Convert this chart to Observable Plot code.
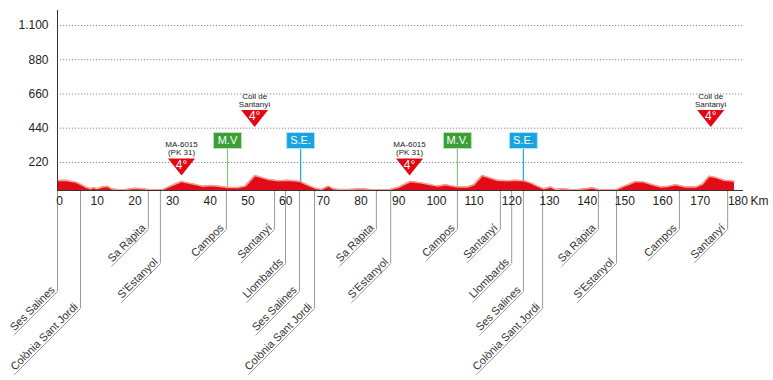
<!DOCTYPE html>
<html>
<head>
<meta charset="utf-8">
<script src="https://cdn.jsdelivr.net/npm/d3@7"></script>
<script src="https://cdn.jsdelivr.net/npm/@observablehq/plot@0.6"></script>
<style>
  html, body { margin: 0; padding: 0; background: #fff; }
  #chart { width: 773px; height: 380px; }
</style>
</head>
<body>
<div id="chart"></div>
<script>
// ---------- DATA ----------
const profileKm   = [0, 2.1, 3.4, 4.8, 6.1, 7.4, 8.8, 9.6, 10.5, 11.9, 13.2, 14.5, 17.2, 20.7, 22.5, 25.1, 27.8, 29.5, 31.3, 32.9, 34.4, 36.6, 38.4, 40.6, 42.8, 45.2, 48, 49.8, 52.4, 54.2, 56, 58.6, 60.8, 62.6, 64.4, 66.6, 68.4, 70.1, 71.9, 73.2, 74.6, 77.2, 80.7, 84.3, 87.8, 90.5, 91.8, 93.7, 96.3, 99, 100.7, 102.9, 105.1, 106.5, 108.7, 110.5, 112.7, 114.4, 116.7, 119.3, 121.5, 123.7, 125.5, 127.3, 129, 130.8, 132.1, 134.3, 137, 140.2, 141.9, 143.7, 148.1, 149.9, 151.7, 153.4, 155.6, 157.8, 160.1, 162.3, 164, 166.7, 169.4, 171.1, 172.9, 174.7, 176.9, 178.6, 179.6];
const profileElev = [105, 106, 100, 94, 80, 63, 51, 59, 51, 63, 68, 49, 44, 55, 51, 44, 44, 63, 82, 98, 89, 79, 68, 72, 68, 59, 59, 68, 136, 124, 110, 102, 106, 102, 98, 72, 55, 47, 68, 51, 47, 47, 51, 44, 44, 61, 77, 98, 89, 77, 68, 77, 68, 63, 63, 77, 136, 124, 106, 102, 106, 102, 89, 68, 51, 63, 47, 51, 44, 51, 57, 47, 44, 63, 80, 98, 94, 77, 63, 68, 77, 63, 63, 80, 132, 124, 106, 102, 98];

const placeNames = ["Ses Salines", "Colònia Sant Jordi", "Sa Ràpita", "S'Estanyol", "Campos", "Santanyí", "Llombards", "Ses Salines", "Colònia Sant Jordi", "Sa Ràpita", "S'Estanyol", "Campos", "Santanyí", "Llombards", "Ses Salines", "Colònia Sant Jordi", "Sa Ràpita", "S'Estanyol", "Campos", "Santanyí"];
const placeKm    = [0, 6.1, 24.1, 27.3, 44.8, 57.6, 60.5, 64.2, 68.2, 84.6, 88.4, 106.1, 117.5, 120.5, 123.6, 128.7, 143.5, 148.3, 165.0, 177.8];

const climbNames = ["MA-6015\n(PK 31)", "Coll de\nSantanyí", "MA-6015\n(PK 31)", "Coll de\nSantanyí"];
const climbKm    = [32.9, 52.3, 93.4, 173.3];
const climbCat   = ["4°", "4°", "4°", "4°"];

const sprintLabels = ["M.V", "S.E.", "M.V.", "S.E."];
const sprintKm     = [45.1, 64.5, 106.1, 123.6];
const sprintType   = ["MV", "SE", "MV", "SE"];

const yTickValues = [220, 440, 660, 880, 1100];
const yTickLabels = ["220", "440", "660", "880", "1.100"];
const xTickValues = [0, 10, 20, 30, 40, 50, 60, 70, 80, 90, 100, 110, 120, 130, 140, 150, 160, 170, 180];
const xTickLabels = ["0", "10", "20", "30", "40", "50", "60", "70", "80", "90", "100", "110", "120", "130", "140", "150", "160", "170", "180"];

// ---------- LAYOUT ----------
const FONT = "Liberation Sans, Arial, Helvetica, sans-serif";
const xDomain = [0, 182], xRange = [57, 743];
const yDomain = [-1116, 1196], yRange = [370, 10];
const yBase = 40; // altitude at the profile baseline
const pxPerKm = (xRange[1] - xRange[0]) / (xDomain[1] - xDomain[0]);
const pxPerM = (yRange[0] - yRange[1]) / (yDomain[1] - yDomain[0]);
const tierDropPx = {"Sa Ràpita": 39, "S'Estanyol": 73, "Campos": 39, "Santanyí": 39, "Llombards": 73, "Ses Salines": 101, "Colònia Sant Jordi": 118};
const climbCenterM = [191, 502, 191, 502];   // triangle centre altitude (annotation layout)
const sprintBoxM = 361;                        // box centre altitude (annotation layout)

const profile = profileKm.map((k, i) => ({km: k, elev: profileElev[i], base: yBase}));
function elevAt(k) {
  for (let i = 0; i < profileKm.length - 1; i++) {
    if (k >= profileKm[i] && k <= profileKm[i + 1]) {
      const t = (k - profileKm[i]) / (profileKm[i + 1] - profileKm[i]);
      return profileElev[i] + t * (profileElev[i + 1] - profileElev[i]);
    }
  }
  return yBase;
}

const ctx = document.createElement("canvas").getContext("2d");
ctx.font = "11px 'Liberation Sans', Arial, sans-serif";
const places = placeNames.map((n, i) => {
  const w = ctx.measureText(n).width + 4;
  const d = w / Math.SQRT2;
  const yT = yBase - tierDropPx[n] / pxPerM;
  return {name: n, km: placeKm[i], base: yBase, yT, kmEnd: placeKm[i] - d / pxPerKm, yEnd: yT - d / pxPerM};
});

const climbs = climbKm.map((k, i) => ({km: k, name: climbNames[i], cat: climbCat[i], yc: climbCenterM[i]}));
const sprints = sprintKm.map((k, i) => ({km: k, label: sprintLabels[i], type: sprintType[i], yb: sprintBoxM, ground: elevAt(k)}));
const sprintFill = {MV: "#3a9f36", SE: "#18a3df"};
const sprintLine = {MV: "#86c47f", SE: "#19a8e6"};
const sprintEdge = {MV: "#bfe0b9", SE: "#b5e2f6"};

const yAxisRows = yTickValues.map((v, i) => ({v, label: yTickLabels[i], x: 0}));
const xAxisRows = xTickValues.map((v, i) => ({v, label: xTickLabels[i], y: yBase}));

const triangleSymbol = {draw(c) { c.moveTo(-13.5, -8.5); c.lineTo(13.5, -8.5); c.lineTo(0, 8.5); c.closePath(); }};
const boxSymbol = {draw(c) { c.moveTo(-14, -8); c.lineTo(14, -8); c.lineTo(14, 8); c.lineTo(-14, 8); c.closePath(); }};

const chart = Plot.plot({
  width: 773,
  height: 380,
  marginLeft: 0, marginRight: 0, marginTop: 0, marginBottom: 0,
  style: {fontFamily: FONT, fontSize: "12px", color: "#222", background: "#fff", overflow: "visible"},
  x: {domain: xDomain, range: xRange, axis: null},
  y: {domain: yDomain, range: yRange, axis: null},
  marks: [
    // grid
    Plot.ruleY(yTickValues, {x1: 0, x2: 182, stroke: "#8a8a8a", strokeDasharray: "1.2,1.8", strokeWidth: 1}),
    // profile
    Plot.area(profile, {x1: "km", y1: "base", y2: "elev", fill: "#e30b17"}),
    Plot.line(profile, {x: "km", y: "elev", stroke: "#f4a48e", strokeWidth: 1.5}),
    // sprint stems
    Plot.ruleX(sprints, {x: "km", y1: "yb", y2: "ground", stroke: d => sprintLine[d.type], strokeWidth: 1.2}),
    // place markers
    Plot.ruleX(places, {x: "km", y1: "base", y2: "yT", stroke: "#9a9a9a", strokeWidth: 1}),
    Plot.link(places, {x1: "km", y1: "yT", x2: "kmEnd", y2: "yEnd", stroke: "#9a9a9a", strokeWidth: 1}),
    Plot.text(places, {x: "km", y: "yT", text: "name", rotate: -45, textAnchor: "end", lineAnchor: "bottom", dx: -2, dy: -1, fontSize: 11, fill: "#333"}),
    // axes lines
    Plot.ruleY([yBase], {x1: 0, x2: 182, stroke: "#333", strokeWidth: 1}),
    Plot.ruleX([0], {y1: yBase, y2: yDomain[1], stroke: "#333", strokeWidth: 1}),
    // axes labels
    Plot.text(yAxisRows, {x: "x", y: "v", text: "label", textAnchor: "end", dx: -9, fontSize: 12, fill: "#222"}),
    Plot.text(xAxisRows, {x: "v", y: "y", text: "label", dy: 11, dx: 2, fontSize: 12, fill: "#222"}),
    Plot.text([{x: 182, y: yBase, t: "Km"}], {x: "x", y: "y", text: "t", textAnchor: "start", dx: 7, dy: 11, fontSize: 12, fill: "#222"}),
    // climbs
    Plot.dot(climbs, {x: "km", y: "yc", symbol: triangleSymbol, r: 5, fill: "#e30613", stroke: "none"}),
    Plot.text(climbs, {x: "km", y: "yc", text: "cat", fill: "#fff", fontSize: 12, dy: -2}),
    Plot.text(climbs, {x: "km", y: "yc", text: "name", fontSize: 8, lineAnchor: "bottom", dy: -12, fill: "#222"}),
    // sprints
    Plot.dot(sprints, {x: "km", y: "yb", symbol: boxSymbol, r: 5, fill: d => sprintFill[d.type], stroke: d => sprintEdge[d.type], strokeWidth: 1}),
    Plot.text(sprints, {x: "km", y: "yb", text: "label", fill: "#fff", fontSize: 11})
  ]
});
document.getElementById("chart").appendChild(chart);
</script>
</body>
</html>
